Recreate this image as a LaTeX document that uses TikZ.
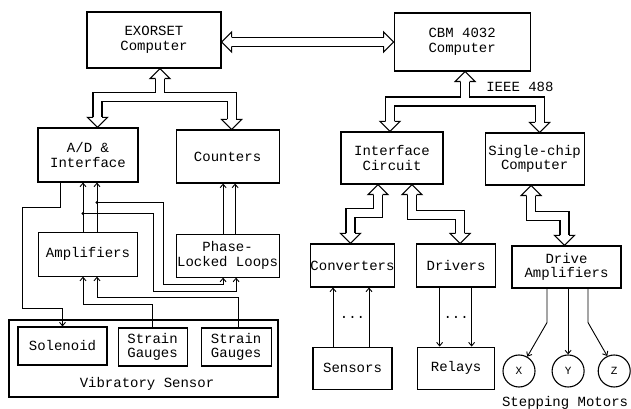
\documentclass[tikz,border=0pt]{standalone}
\usepackage{fontspec}
\usepackage{tikz}
\usetikzlibrary{arrows.meta,positioning,calc}
\newfontfamily\typewr{Liberation Mono}
\tikzset{
  bushead/.pic={\draw[line width=1.1pt] (-4.5,-10) -- (-10,-10) -- (0,0) -- (10,-10) -- (4.5,-10);}
}

\begin{document}
\begin{tikzpicture}[
  x=1pt, y=1pt,
  box/.style={rectangle, draw, line width=1.1pt, inner sep=0pt, align=center, font=\typewr\fontsize{14}{14.5}\selectfont},
  lbl/.style={inner sep=0pt, font=\typewr\fontsize{14}{14.5}\selectfont},
  motor/.style={circle, draw, line width=1.1pt, minimum size=32pt, inner sep=0pt, font=\typewr\fontsize{11}{12}\selectfont},
  bus/.style={line width=1.1pt, double distance=7.9pt},
  sig/.style={line width=0.9pt, -{Straight Barb[length=3.5pt,width=6pt]}}
]
\useasboundingbox (0,0) rectangle (631,409);

\node[box, minimum width=134pt, minimum height=56pt] (exo) at (154,369) {EXORSET\\Computer};
\node[box, minimum width=136pt, minimum height=58pt, right=172pt of exo, yshift=-2pt] (cbm) {CBM 4032\\Computer};
\node[lbl, anchor=west] (ieee) at ($(cbm.south)+(24,-15)$) {IEEE 488};

\node[box, minimum width=100pt, minimum height=54pt] (ad) at (88,254) {A/D \&\\Interface};
\node[box, minimum width=103pt, minimum height=53pt, right=37pt of ad, yshift=-1.5pt] (cnt) {Counters};
\node[box, minimum width=99pt, minimum height=44pt, below=49pt of ad] (amp) {Amplifiers};
\node[box, minimum width=103pt, minimum height=43pt, below=50pt of cnt] (pll) {Phase-\\Locked Loops};
\node[box, minimum width=269pt, minimum height=77pt] (vib) at (143.5,50.5) {};
\node[box, minimum width=89pt, minimum height=38pt, anchor=north west] (sol) at ($(vib.north west)+(9,-7)$) {Solenoid};
\node[box, minimum width=69pt, minimum height=38pt, right=10pt of sol, yshift=-1pt] (sg1) {Strain\\Gauges};
\node[box, minimum width=70pt, minimum height=38pt, right=13pt of sg1] (sg2) {Strain\\Gauges};
\node[lbl] (vibtxt) at ($(vib.south)+(3.5,14)$) {Vibratory Sensor};

\node[box, minimum width=102pt, minimum height=52pt] (ifc) at (392,251) {Interface\\Circuit};
\node[box, minimum width=99pt, minimum height=52pt, right=41pt of ifc, yshift=-1pt] (scc) {Single-chip\\Computer};
\node[box, minimum width=79pt, minimum height=43pt] (conv) at (352.5,143.5) {Converters};
\node[box, minimum width=79pt, minimum height=43pt, right=21pt of conv] (drv) {Drivers};
\node[box, minimum width=109pt, minimum height=42pt] (dra) at (566.5,142) {Drive\\Amplifiers};
\node[box, minimum width=79pt, minimum height=42pt, below=59pt of conv] (sens) {Sensors};
\node[box, minimum width=77pt, minimum height=42pt, below=59pt of drv] (rel) {Relays};
\node[motor] (mx) at (519,38) {X};
\node[motor, right=16pt of mx] (my) {Y};
\node[motor, right=13pt of my] (mz) {Z};
\node[lbl, anchor=base] (motors) at ($(my.south)+(-3,-19)$) {Stepping Motors};

\draw[bus] ($(exo.east |- cbm.west)+(10,0)$) -- ($(cbm.west)+(-10,0)$);
\pic[rotate=90] at (exo.east |- cbm.west) {bushead};
\pic[rotate=-90] at (cbm.west) {bushead};

\coordinate (b1) at ($(exo.south)+(6,-28.5)$);
\draw[bus] ($(exo.south)+(6,-10)$) -- (b1) -| ($(ad.north)+(9.5,10)$)
  (b1) -| ($(cnt.north)+(4,10)$);
\pic at ($(exo.south)+(6,0)$) {bushead};
\pic[rotate=180] at ($(ad.north)+(9.5,0)$) {bushead};
\pic[rotate=180] at ($(cnt.north)+(4,0)$) {bushead};

\coordinate (b2) at ($(cbm.south)+(3,-30)$);
\draw[bus] ($(cbm.south)+(3,-10)$) -- (b2) -| ($(ifc.north)+(-2,10)$)
  (b2) -| ($(scc.north)+(5,10)$);
\pic at ($(cbm.south)+(3,0)$) {bushead};
\pic[rotate=180] at ($(ifc.north)+(-2,0)$) {bushead};
\pic[rotate=180] at ($(scc.north)+(5,0)$) {bushead};

\draw[bus] ($(ifc.south)+(-14,-10)$) |- ($(conv.north)+(-2,30)$) -- ($(conv.north)+(-2,10)$);
\pic at ($(ifc.south)+(-14,0)$) {bushead};
\pic[rotate=180] at ($(conv.north)+(-2,0)$) {bushead};
\draw[bus] ($(ifc.south)+(20,-10)$) |- ($(drv.north)+(4,28)$) -- ($(drv.north)+(4,10)$);
\pic at ($(ifc.south)+(20,0)$) {bushead};
\pic[rotate=180] at ($(drv.north)+(4,0)$) {bushead};
\draw[bus] ($(scc.south)+(-3.5,-10)$) |- ($(dra.north)+(-2,29)$) -- ($(dra.north)+(-2,10)$);
\pic at ($(scc.south)+(-3.5,0)$) {bushead};
\pic[rotate=180] at ($(dra.north)+(-2,0)$) {bushead};

\draw[sig] ([xshift=-5pt]amp.north) -- ([xshift=-5pt]ad.south);
\draw[sig] ([xshift=9pt]amp.north) -- ([xshift=9pt]ad.south);
\coordinate (ja) at ($(ad.south)+(-5,-31)$);
\coordinate (jb) at ($(ad.south)+(9,-20)$);
\fill (ja) circle (1.6);
\fill (jb) circle (1.6);
\draw[sig] (ja) -| ($(pll.south)+(-74.5,-14)$) -| ($(pll.south)+(8.5,0)$);
\draw[sig] (jb) -| ($(pll.south)+(-64.5,-7)$) -| ($(pll.south)+(-4.5,0)$);
\draw[sig] ($(pll.north)+(-4.5,0)$) -- ($(cnt.south)+(-4.5,0)$);
\draw[sig] ($(pll.north)+(7.5,0)$) -- ($(cnt.south)+(7.5,0)$);
\draw[sig] ($(ad.south)+(-28,0)$) -- ++(0,-25) -| ($(sol.north)+(-40.5,18)$) -| (sol.north);
\draw[sig] (sg1.north) |- ($(amp.south)+(-5,-28)$) -- ($(amp.south)+(-5,0)$);
\draw[sig] ($(sg2.north)+(2,0)$) |- ($(amp.south)+(9,-21)$) -- ($(amp.south)+(9,0)$);

\draw[sig] ($(sens.north)+(-19.5,0)$) -- ($(conv.south)+(-19.5,0)$);
\draw[sig] ($(sens.north)+(16.5,0)$) -- ($(conv.south)+(16.5,0)$);
\node[lbl] (sdots) at ($(sens.north)!0.5!(conv.south)$) {...};
\draw[sig] ($(drv.south)+(-16.5,0)$) -- ($(rel.north)+(-16.5,0)$);
\draw[sig] ($(drv.south)+(15.5,0)$) -- ($(rel.north)+(15.5,0)$);
\node[lbl] (rdots) at ($(rel.north)!0.5!(drv.south)$) {...};
\draw[sig] ($(dra.south)+(-19.5,0)$) -- ++(0,-34) -- (mx.60);
\draw[sig] (my.north |- dra.south) -- (my.north);
\draw[sig] ($(dra.south)+(21.5,0)$) -- ++(0,-34) -- (mz.115);
\end{tikzpicture}
\end{document}
